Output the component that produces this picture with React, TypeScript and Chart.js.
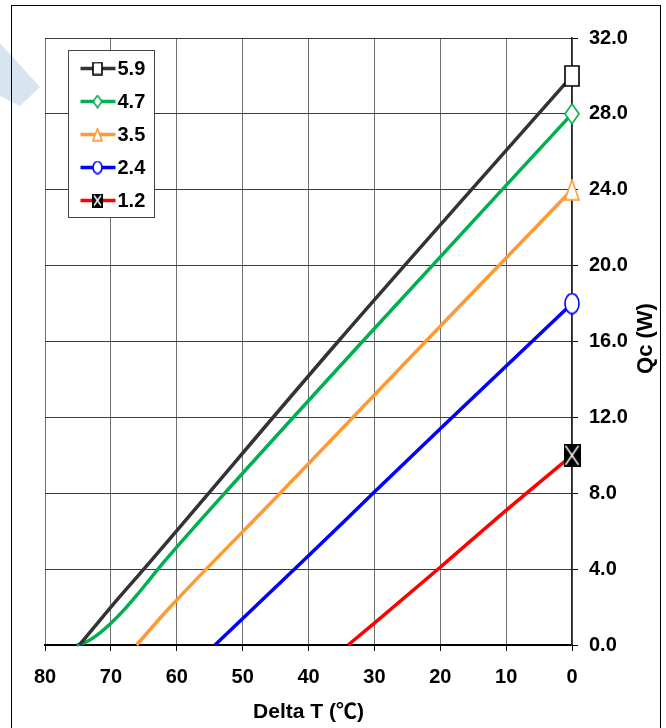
import React, { useEffect, useRef } from 'react';
import { Chart, registerables } from 'chart.js';

Chart.register(...registerables);

const FONT = '"Liberation Sans", Arial, "Noto Sans CJK SC", sans-serif';

const xTitle = 'Delta T (℃)';
const yTitle = 'Qc (W)';

const seriesLabels = ['5.9', '4.7', '3.5', '2.4', '1.2'];
const seriesColors = ['#333333', '#00b050', '#ff9933', '#0000ff', '#ff0000'];
const seriesMarkers = ['square', 'diamond', 'triangle', 'circle', 'xbox'];

// Delta T values (hot end first) and Qc readings for each curve
const dt59 = [74.8, 72.5, 70, 65, 35.5, 0];
const qc59 = [0, 0.95, 2.0, 4.0, 16, 30];

const dt47 = [75.2, 74, 72, 70, 68, 66, 64, 62, 53.5, 31.8, 0];
const qc47 = [0, 0.12, 0.55, 1.15, 1.85, 2.65, 3.5, 4.35, 7.7, 16, 28];

const dt35 = [66.1, 61, 44.3, 20, 0];
const qc35 = [0, 2.0, 8.0, 16.8, 24];

const dt24 = [54.2, 40, 30.2, 20, 0];
const qc24 = [0, 4.7, 8.0, 11.4, 18];

const dt12 = [34, 30, 20, 10, 0];
const qc12 = [0, 1.15, 4.1, 7.1, 10];

const seriesDT = [dt59, dt47, dt35, dt24, dt12];
const seriesQC = [qc59, qc47, qc35, qc24, qc12];

function makeMarker(kind: string, color: string, w: number, h: number) {
  const c = document.createElement('canvas');
  c.width = w;
  c.height = h;
  const g = c.getContext('2d')!;
  g.lineWidth = 1.6;
  g.strokeStyle = color;
  g.fillStyle = '#fff';
  g.beginPath();
  if (kind === 'square') {
    g.rect(1, 1, w - 2, h - 2);
  } else if (kind === 'diamond') {
    g.moveTo(w / 2, 1);
    g.lineTo(w - 1, h / 2);
    g.lineTo(w / 2, h - 1);
    g.lineTo(1, h / 2);
    g.closePath();
  } else if (kind === 'triangle') {
    g.moveTo(w / 2, 1);
    g.lineTo(w - 1, h - 1);
    g.lineTo(1, h - 1);
    g.closePath();
  } else if (kind === 'circle') {
    g.ellipse(w / 2, h / 2, w / 2 - 1, h / 2 - 1, 0, 0, Math.PI * 2);
  } else {
    g.fillStyle = '#000';
    g.fillRect(0, 0, w, h);
    g.strokeStyle = '#fff';
    g.lineWidth = 1.4;
    g.moveTo(2, 2);
    g.lineTo(w - 2, h - 2);
    g.moveTo(w - 2, 2);
    g.lineTo(2, h - 2);
    g.stroke();
    return c;
  }
  g.fill();
  g.stroke();
  return c;
}

const overlayPlugin = {
  id: 'overlay',
  afterDraw(chart: any) {
    const { ctx, chartArea: area } = chart;
    ctx.save();
    ctx.translate(chart.width - 20, (area.top + area.bottom) / 2 - 3);
    ctx.rotate(-Math.PI / 2);
    ctx.font = `bold 22px ${FONT}`;
    ctx.fillStyle = '#000';
    ctx.textAlign = 'center';
    ctx.textBaseline = 'middle';
    ctx.fillText(yTitle, 0, 0);
    ctx.restore();

    // legend box
    const bx = area.left + 23.5;
    const by = area.top + 12.5;
    ctx.save();
    ctx.fillStyle = '#fff';
    ctx.fillRect(bx, by, 86, 167);
    ctx.strokeStyle = '#444';
    ctx.lineWidth = 1;
    ctx.strokeRect(bx, by, 86, 167);
    seriesLabels.forEach((label, i) => {
      const y = by + 18 + i * 33;
      ctx.strokeStyle = seriesColors[i];
      ctx.lineWidth = 3.5;
      ctx.beginPath();
      ctx.moveTo(bx + 12, y);
      ctx.lineTo(bx + 47, y);
      ctx.stroke();
      const m = makeMarker(seriesMarkers[i], i === 0 ? '#000' : seriesColors[i], 11, 14);
      ctx.drawImage(m, bx + 29 - 5.5, y - 7);
      ctx.font = `bold 20px ${FONT}`;
      ctx.fillStyle = '#000';
      ctx.textAlign = 'left';
      ctx.textBaseline = 'middle';
      ctx.fillText(label, bx + 49, y + 1);
    });
    ctx.restore();
  },
};

export default function App() {
  const canvasRef = useRef<HTMLCanvasElement>(null);
  const chartRef = useRef<Chart | null>(null);

  useEffect(() => {
    if (!canvasRef.current) return;
    if (chartRef.current) chartRef.current.destroy();

    const datasets = seriesLabels.map((label, i) => {
      const dts = seriesDT[i];
      const last = dts.length - 1;
      const marker = makeMarker(seriesMarkers[i], i === 0 ? '#000' : seriesColors[i], i === 4 ? 17 : 16, i === 4 ? 23 : 22);
      return {
        label,
        data: dts.map((x, j) => ({ x, y: seriesQC[i][j] })),
        borderColor: seriesColors[i],
        backgroundColor: seriesColors[i],
        borderWidth: 3.5,
        cubicInterpolationMode: 'monotone' as const,
        pointStyle: marker,
        pointRadius: (c: any) => (c.dataIndex === last ? 10 : 0),
        pointHoverRadius: 0,
        clip: false as const,
      };
    });

    chartRef.current = new Chart(canvasRef.current, {
      type: 'line',
      data: { datasets },
      options: {
        animation: false,
        responsive: false,
        events: [],
        layout: { padding: { left: 45, top: 38, right: 0, bottom: 0 } },
        plugins: { legend: { display: false }, tooltip: { enabled: false } },
        scales: {
          x: {
            type: 'linear',
            reverse: true,
            min: 0,
            max: 80,
            afterFit: (s: any) => { s.height = 83; },
            ticks: {
              stepSize: 10,
              padding: 14,
              color: '#000',
              font: { family: FONT, size: 20, weight: 'bold' },
            },
            grid: { color: '#707070', lineWidth: 1, tickLength: 6, tickColor: '#000' },
            border: { color: '#000', width: 2 },
            title: {
              display: true,
              text: xTitle,
              color: '#000',
              font: { family: FONT, size: 21, weight: 'bold' },
              padding: { top: 0, bottom: 3 },
            },
          },
          y: {
            type: 'linear',
            position: 'right',
            min: 0,
            max: 32,
            afterFit: (s: any) => { s.width = 94; },
            ticks: {
              stepSize: 4,
              padding: 11,
              color: '#000',
              font: { family: FONT, size: 20, weight: 'bold' },
              callback: (v: any) => Number(v).toFixed(1),
            },
            grid: { color: '#3a3a3a', lineWidth: 1, tickLength: 6, tickColor: '#000' },
            border: { color: '#222', width: 1.5 },
          },
        },
      },
      plugins: [overlayPlugin],
    });

    return () => {
      if (chartRef.current) {
        chartRef.current.destroy();
        chartRef.current = null;
      }
    };
  }, []);

  return (
    <div style={{ position: 'absolute', left: 0, top: 0, width: 666, height: 728, overflow: 'hidden', background: '#fff' }}>
      <div
        style={{
          position: 'absolute', left: 0, top: 0, width: 42, height: 110, background: '#d9e4f1',
          clipPath: 'polygon(0px 43px, 40px 87px, 20px 106px, 0px 96px)',
        }}
      />
      <div
        style={{
          position: 'absolute', left: 11, top: 5, width: 650, height: 760,
          border: '1px solid #000', boxSizing: 'border-box',
        }}
      />
      <canvas ref={canvasRef} width={666} height={728} style={{ position: 'absolute', left: 0, top: 0 }} />
    </div>
  );
}
